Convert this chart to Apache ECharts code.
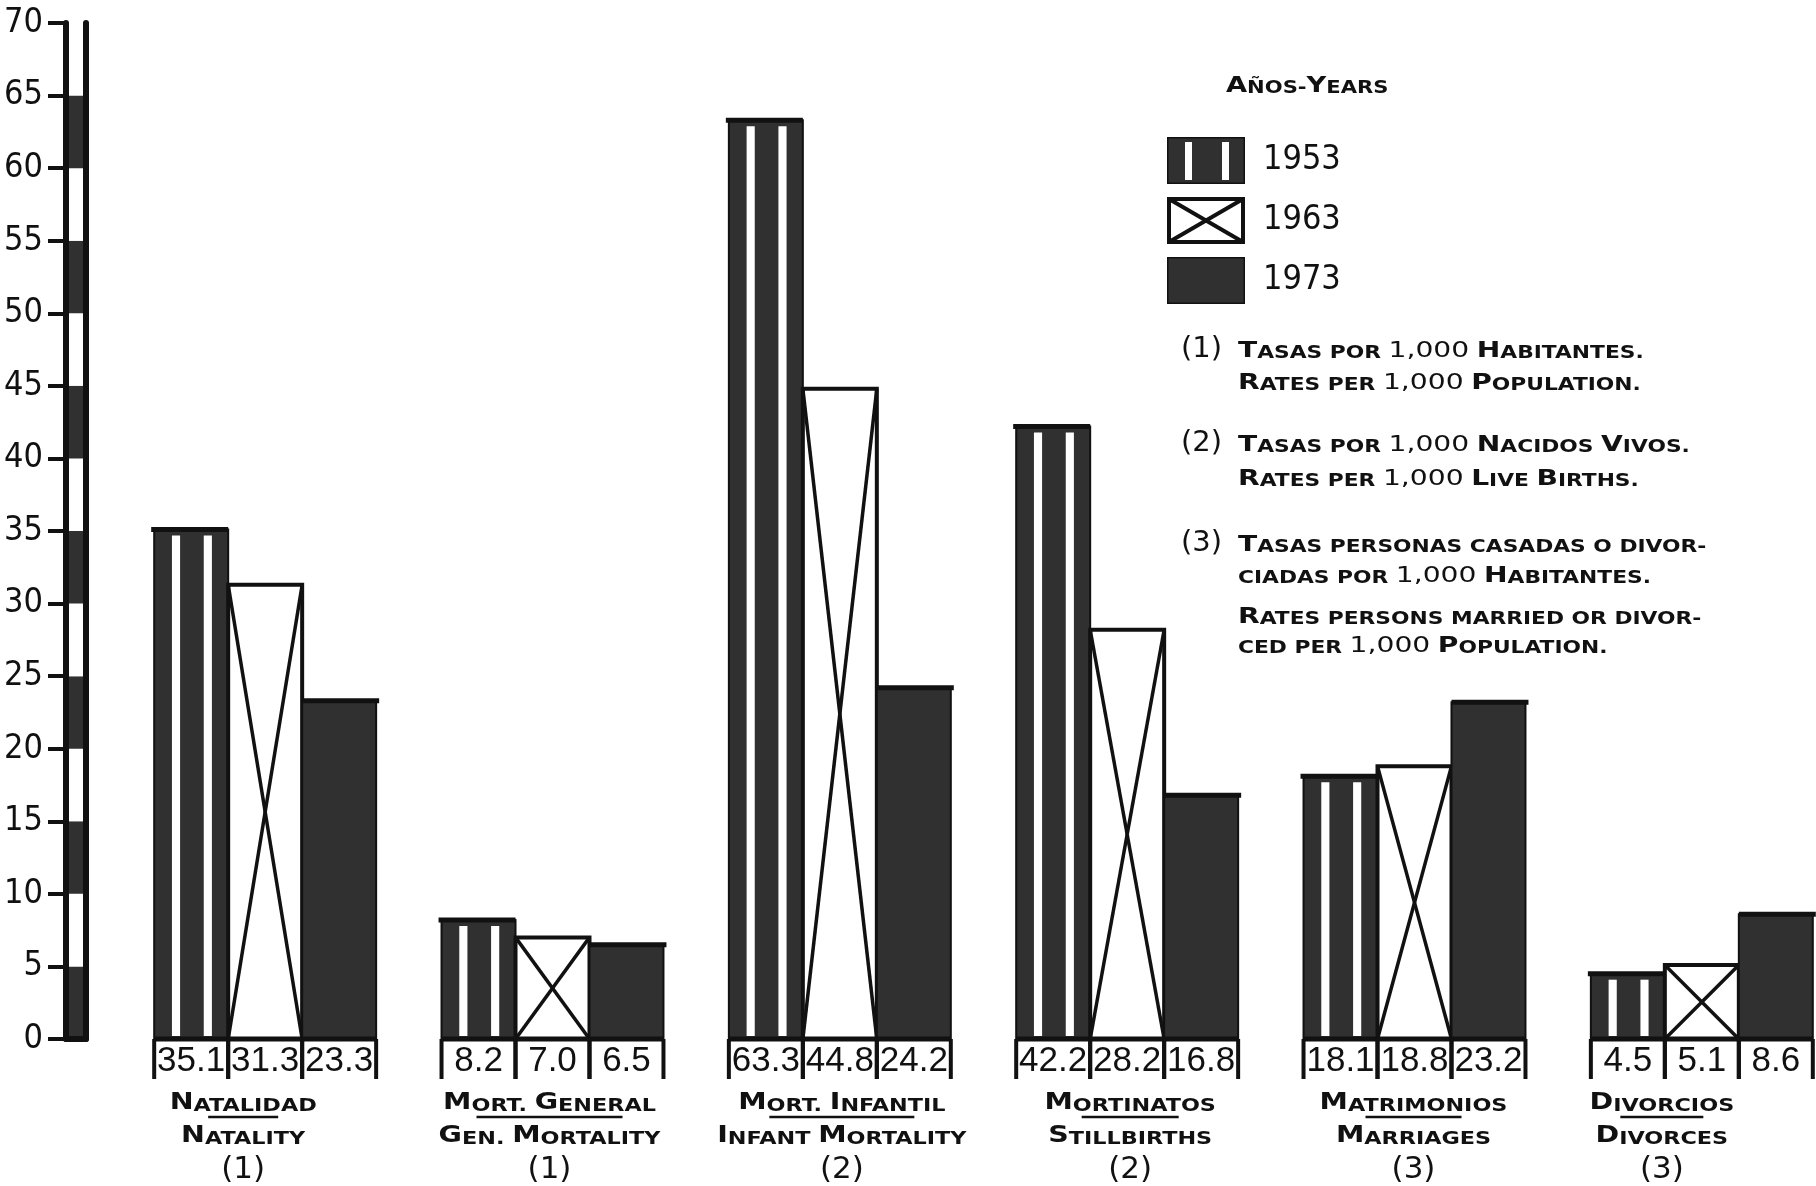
<!DOCTYPE html>
<html><head><meta charset="utf-8">
<script src="https://cdn.jsdelivr.net/npm/echarts@6/dist/echarts.min.js"></script>
<style>html,body{margin:0;padding:0;background:#fff}#c{width:1816px;height:1186px}</style>
</head><body><div id="c"></div>
<script>
// ---------- data ----------
const categoriesEs = ['Natalidad', 'Mort. General', 'Mort. Infantil', 'Mortinatos', 'Matrimonios', 'Divorcios'];
const categoriesEn = ['Natality', 'Gen. Mortality', 'Infant Mortality', 'Stillbirths', 'Marriages', 'Divorces'];
const rateNotes = ['(1)', '(1)', '(2)', '(2)', '(3)', '(3)'];
const years = ['1953', '1963', '1973'];
const values1953 = [35.1, 8.2, 63.3, 42.2, 18.1, 4.5];
const values1963 = [31.3, 7.0, 44.8, 28.2, 18.8, 5.1];
const values1973 = [23.3, 6.5, 24.2, 16.8, 23.2, 8.6];
const yMin = 0, yMax = 70, yStep = 5;
const legendTitle = 'Años-Years';
const noteTags = ['(1)', '(2)', '(3)'];
const noteLines = [
  ['Tasas por 1,000 Habitantes.', 'Rates per 1,000 Population.'],
  ['Tasas por 1,000 Nacidos Vivos.', 'Rates per 1,000 Live Births.'],
  ['Tasas personas casadas o divor-', 'ciadas por 1,000 Habitantes.', 'Rates persons married or divor-', 'ced per 1,000 Population.']
];

// ---------- styles ----------
const INK = '#111111', DARK = '#303030';
const SC_FONT = 'DejaVu Sans';
const NUM_FONT = 'Liberation Sans';
const NARROW_FONT = "'Liberation Sans Narrow','DejaVu Sans Condensed','Liberation Sans'";
const BAR_FRAC = 74 / 287.4;
const labelShift = [-22, -3, 2, 3, -1, -40];
const underlineW = [70, 146, 145, 97, 96, 83];
const noteLineY = [[349, 381], [443, 477], [543, 574, 615, 644]];
const noteTagY = [349, 443, 543];

function smallCaps(str) {
  let out = '', cur = null, buf = '';
  for (const ch of str) {
    const digit = /[0-9(),]/.test(ch);
    const big = (ch !== ch.toLowerCase()) || digit;
    const k = digit ? 'd' : (big ? 'b' : 's');
    if (k !== cur) { if (buf) out += '{' + cur + '|' + buf + '}'; buf = ''; cur = k; }
    buf += ch.toUpperCase();
  }
  if (buf) out += '{' + cur + '|' + buf + '}';
  return out;
}
function scRich(b, s) {
  const lh = Math.round(b * 1.2);
  return {
    b: {fontFamily: SC_FONT, fontWeight: 'bold', fontSize: b, lineHeight: lh, verticalAlign: 'bottom', fill: INK, color: INK},
    d: {fontFamily: SC_FONT, fontSize: b, lineHeight: lh, verticalAlign: 'bottom', fill: INK, color: INK},
    s: {fontFamily: SC_FONT, fontWeight: 'bold', fontSize: s, lineHeight: lh, verticalAlign: 'bottom', fill: INK, color: INK}
  };
}
const catRich = scRich(23, 18);
const noteRich = scRich(22, 17);

function svgIcon(inner) {
  return 'image://data:image/svg+xml;charset=utf-8,' + encodeURIComponent(
    "<svg xmlns='http://www.w3.org/2000/svg' width='78' height='47' viewBox='0 0 78 47'>" + inner + "</svg>");
}
const icons = [
  svgIcon("<rect width='78' height='47' fill='" + DARK + "'/><rect x='0' y='0' width='78' height='47' fill='none' stroke='" + INK + "' stroke-width='3'/><rect x='18' y='5' width='7' height='38' fill='#fff'/><rect x='55' y='5' width='7' height='38' fill='#fff'/>"),
  svgIcon("<rect x='2' y='2' width='74' height='43' fill='#fff' stroke='" + INK + "' stroke-width='4'/><path d='M2 2 L76 45 M76 2 L2 45' stroke='" + INK + "' stroke-width='4' fill='none'/>"),
  svgIcon("<rect width='78' height='47' fill='" + DARK + "'/><rect x='0' y='0' width='78' height='47' fill='none' stroke='" + INK + "' stroke-width='3'/>")
];

function barRenderer(kind) {
  return function (params, api) {
    const i = api.value(0), v = api.value(1);
    const base = api.coord([i, 0]);
    const top = api.coord([i, v]);
    const band = api.size([1, 0])[0];
    const bw = band * BAR_FRAC;
    const x0 = base[0] - 1.5 * bw + kind * bw;
    const y0 = top[1], y1 = base[1], h = y1 - y0;
    const ch = [];
    if (kind === 0) {
      ch.push({type: 'rect', shape: {x: x0, y: y0, width: bw, height: h}, style: {fill: DARK, stroke: INK, lineWidth: 2}});
      ch.push({type: 'rect', shape: {x: x0 + 0.24 * bw, y: y0 + 6, width: 0.11 * bw, height: h - 9}, style: {fill: '#fff'}});
      ch.push({type: 'rect', shape: {x: x0 + 0.67 * bw, y: y0 + 6, width: 0.11 * bw, height: h - 9}, style: {fill: '#fff'}});
      ch.push({type: 'line', shape: {x1: x0 - 3, y1: y0, x2: x0 + bw, y2: y0}, style: {stroke: INK, lineWidth: 5}});
    } else if (kind === 1) {
      ch.push({type: 'rect', shape: {x: x0, y: y0, width: bw, height: h}, style: {fill: '#fff', stroke: INK, lineWidth: 4}});
      ch.push({type: 'line', shape: {x1: x0, y1: y0, x2: x0 + bw, y2: y1}, style: {stroke: INK, lineWidth: 3.5}});
      ch.push({type: 'line', shape: {x1: x0 + bw, y1: y0, x2: x0, y2: y1}, style: {stroke: INK, lineWidth: 3.5}});
    } else {
      ch.push({type: 'rect', shape: {x: x0, y: y0, width: bw, height: h}, style: {fill: DARK, stroke: INK, lineWidth: 2}});
      ch.push({type: 'line', shape: {x1: x0, y1: y0, x2: x0 + bw + 3, y2: y0}, style: {stroke: INK, lineWidth: 5}});
    }
    // baseline and value box separators
    ch.push({type: 'line', shape: {x1: x0, y1: y1, x2: x0 + bw, y2: y1}, style: {stroke: INK, lineWidth: 5}});
    ch.push({type: 'line', shape: {x1: x0, y1: y1, x2: x0, y2: y1 + 40}, style: {stroke: INK, lineWidth: 4}});
    ch.push({type: 'line', shape: {x1: x0 + bw, y1: y1, x2: x0 + bw, y2: y1 + 40}, style: {stroke: INK, lineWidth: 4}});
    ch.push({type: 'text', x: x0 + bw / 2, y: y1 + 22,
      style: {text: v.toFixed(1), fontFamily: NUM_FONT, fontSize: 35, fill: INK, align: 'center', verticalAlign: 'middle'}});
    return {type: 'group', children: ch};
  };
}

function renderCatLabel(params, api) {
  const i = api.value(0);
  const p = api.coord([i, 0]);
  const cx = p[0] + labelShift[i], by = p[1];
  const uw = underlineW[i];
  return {type: 'group', children: [
    {type: 'text', x: cx, y: by + 62, scaleX: 1.24,
      style: {text: smallCaps(categoriesEs[i]), rich: catRich, fill: INK, align: 'center', verticalAlign: 'middle'}},
    {type: 'line', shape: {x1: cx - uw / 2, y1: by + 78, x2: cx + uw / 2, y2: by + 78}, style: {stroke: INK, lineWidth: 2.5}},
    {type: 'text', x: cx, y: by + 95, scaleX: 1.24,
      style: {text: smallCaps(categoriesEn[i]), rich: catRich, fill: INK, align: 'center', verticalAlign: 'middle'}},
    {type: 'text', x: cx, y: by + 131,
      style: {text: rateNotes[i], fontFamily: SC_FONT, fontSize: 31, fill: INK, align: 'center', verticalAlign: 'middle'}}
  ]};
}

const graphics = [];
graphics.push({type: 'text', x: 1226, y: 84, scaleX: 1.24,
  style: {text: smallCaps(legendTitle), rich: noteRich, fill: INK, align: 'left', verticalAlign: 'middle'}});
noteTags.forEach((t, k) => {
  graphics.push({type: 'text', x: 1181, y: noteTagY[k],
    style: {text: t, fontFamily: SC_FONT, fontSize: 29, fill: INK, align: 'left', verticalAlign: 'middle'}});
  noteLines[k].forEach((line, j) => {
    graphics.push({type: 'text', x: 1238, y: noteLineY[k][j], scaleX: 1.28,
      style: {text: smallCaps(line), rich: noteRich, fill: INK, align: 'left', verticalAlign: 'middle'}});
  });
});

const chart = echarts.init(document.getElementById('c'), null, {renderer: 'canvas'});
const yBase = {type: 'value', min: yMin, max: yMax, interval: yStep};
chart.setOption({
  animation: false,
  backgroundColor: '#fff',
  grid: [
    {left: 121.5, top: 23, width: 1724, height: 1016, outerBoundsMode: 'none', containLabel: false},
    {left: 66, top: 23, width: 20, height: 1016, outerBoundsMode: 'none', containLabel: false}
  ],
  xAxis: [
    {type: 'category', gridIndex: 0, data: categoriesEs, axisLine: {show: false}, axisTick: {show: false}, axisLabel: {show: false}, splitLine: {show: false}},
    {type: 'category', gridIndex: 1, position: 'top', data: [''], axisLine: {show: true, lineStyle: {color: INK, width: 6}}, axisTick: {show: false}, axisLabel: {show: false}}
  ],
  yAxis: [
    Object.assign({gridIndex: 0, show: false, splitLine: {show: false}}, yBase),
    Object.assign({gridIndex: 1, position: 'left',
      axisLine: {show: true, lineStyle: {color: INK, width: 6}},
      axisTick: {show: true, length: 18, lineStyle: {color: INK, width: 4}},
      axisLabel: {show: true, margin: 23, fontFamily: NARROW_FONT, fontSize: 34, color: INK},
      splitLine: {show: false},
      splitArea: {show: true, areaStyle: {color: [DARK, '#ffffff']}}}, yBase),
    Object.assign({gridIndex: 1, position: 'right',
      axisLine: {show: true, lineStyle: {color: INK, width: 6}},
      axisTick: {show: false}, axisLabel: {show: false}, splitLine: {show: false}}, yBase)
  ],
  legend: {
    orient: 'vertical', left: 1162, top: 132, itemWidth: 78, itemHeight: 47, itemGap: 13,
    selectedMode: false,
    data: years.map((y, k) => ({name: y, icon: icons[k]})),
    textStyle: {fontFamily: NARROW_FONT, fontSize: 34, color: INK, padding: [0, 0, 0, 13]}
  },
  graphic: graphics,
  series: [
    {name: years[0], type: 'custom', xAxisIndex: 0, yAxisIndex: 0, clip: false, renderItem: barRenderer(0),
      encode: {x: 0, y: 1}, data: values1953.map((v, i) => [i, v])},
    {name: years[1], type: 'custom', xAxisIndex: 0, yAxisIndex: 0, clip: false, renderItem: barRenderer(1),
      encode: {x: 0, y: 1}, data: values1963.map((v, i) => [i, v])},
    {name: years[2], type: 'custom', xAxisIndex: 0, yAxisIndex: 0, clip: false, renderItem: barRenderer(2),
      encode: {x: 0, y: 1}, data: values1973.map((v, i) => [i, v])},
    {name: 'labels', type: 'custom', xAxisIndex: 0, yAxisIndex: 0, clip: false, renderItem: renderCatLabel,
      encode: {x: 0, y: 1}, data: categoriesEs.map((c, i) => [i, 0])}
  ]
});
</script></body></html>
